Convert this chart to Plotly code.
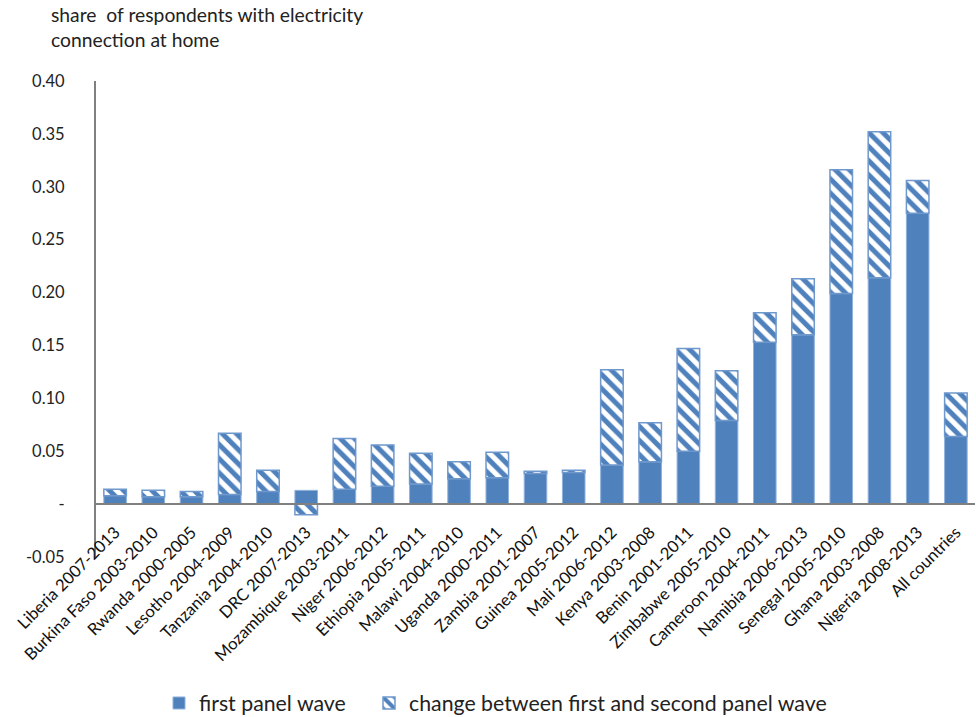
import plotly.graph_objects as go

categories = ["Liberia 2007-2013", "Burkina Faso 2003-2010", "Rwanda 2000-2005", "Lesotho 2004-2009",
              "Tanzania 2004-2010", "DRC 2007-2013", "Mozambique 2003-2011", "Niger 2006-2012",
              "Ethiopia 2005-2011", "Malawi 2004-2010", "Uganda 2000-2011", "Zambia 2001-2007",
              "Guinea 2005-2012", "Mali 2006-2012", "Kenya 2003-2008", "Benin 2001-2011",
              "Zimbabwe 2005-2010", "Cameroon 2004-2011", "Namibia 2006-2013", "Senegal 2005-2010",
              "Ghana 2003-2008", "Nigeria 2008-2013", "All countries"]

first_wave = [0.008, 0.007, 0.007, 0.009, 0.012, 0.013, 0.014, 0.017, 0.019, 0.024, 0.025, 0.029,
              0.030, 0.037, 0.040, 0.050, 0.079, 0.153, 0.160, 0.199, 0.214, 0.275, 0.064]

change = [0.006, 0.006, 0.005, 0.058, 0.020, -0.010, 0.048, 0.039, 0.029, 0.016, 0.024, 0.002,
          0.002, 0.090, 0.037, 0.097, 0.047, 0.028, 0.053, 0.117, 0.138, 0.031, 0.041]

ytick_vals = [-0.05, 0, 0.05, 0.10, 0.15, 0.20, 0.25, 0.30, 0.35, 0.40]
ytick_text = ["-0.05", "-", "0.05", "0.10", "0.15", "0.20", "0.25", "0.30", "0.35", "0.40"]

BLUE = "#4F81BD"
EDGE = "#8FB1DC"
FONT = "Lato"

fig = go.Figure()
fig.add_trace(go.Bar(
    x=categories, y=first_wave, name="first panel wave", legend="legend",
    marker=dict(color=BLUE, line=dict(color=EDGE, width=1)),
))
fig.add_trace(go.Bar(
    x=categories, y=change, name="change between first and second panel wave", legend="legend2",
    marker=dict(color="white", line=dict(color="#6F98CC", width=1.5),
                pattern=dict(shape="\\", fgcolor=BLUE, bgcolor="white", size=10, solidity=0.5,
                             fgopacity=1, fillmode="replace")),
))

y0 = -0.05
y1 = 0.40
zero_pos = (0 - y0) / (y1 - y0)
legend_font = dict(size=21.3, family=FONT, color="#222222")

fig.update_layout(
    width=976, height=717,
    margin=dict(l=96, r=1, t=81, b=160, autoexpand=False),
    barmode="relative",
    bargap=0.41,
    plot_bgcolor="white", paper_bgcolor="white",
    font=dict(family=FONT, size=16, color="#222222"),
    showlegend=True,
    legend=dict(orientation="h", x=(159 - 96) / 879, xanchor="left", y=-0.307, yanchor="middle",
                font=legend_font, itemwidth=30),
    legend2=dict(orientation="h", x=(369 - 96) / 879, xanchor="left", y=-0.307, yanchor="middle",
                 font=legend_font, itemwidth=30),
    annotations=[dict(
        text="share  of respondents with electricity<br>connection at home",
        xref="paper", yref="paper", x=(49 - 96) / 879, y=1 + (81 - 1) / 476,
        xanchor="left", yanchor="top", align="left", showarrow=False,
        font=dict(size=19.3, family=FONT, color="#222222"),
    )],
)
fig.update_xaxes(
    type="category", range=[-0.5, len(categories) - 0.5],
    tickangle=-45, tickfont=dict(size=16.6, family=FONT, color="#111111"),
    showline=True, linecolor="#808080", linewidth=2,
    anchor="free", position=zero_pos,
    showgrid=False, zeroline=False, ticks="", ticklabelstandoff=11,
)
fig.update_yaxes(
    range=[y0, y1], tickvals=ytick_vals, ticktext=ytick_text,
    tickfont=dict(size=16.5, family=FONT, color="#222222"),
    showline=True, linecolor="#808080", linewidth=2,
    showgrid=False, zeroline=False, ticks="", ticklabelstandoff=26,
)

fig.write_html("out.html", config={"displayModeBar": False},
               post_script="document.body.style.margin='0';document.body.style.overflow='hidden';")
